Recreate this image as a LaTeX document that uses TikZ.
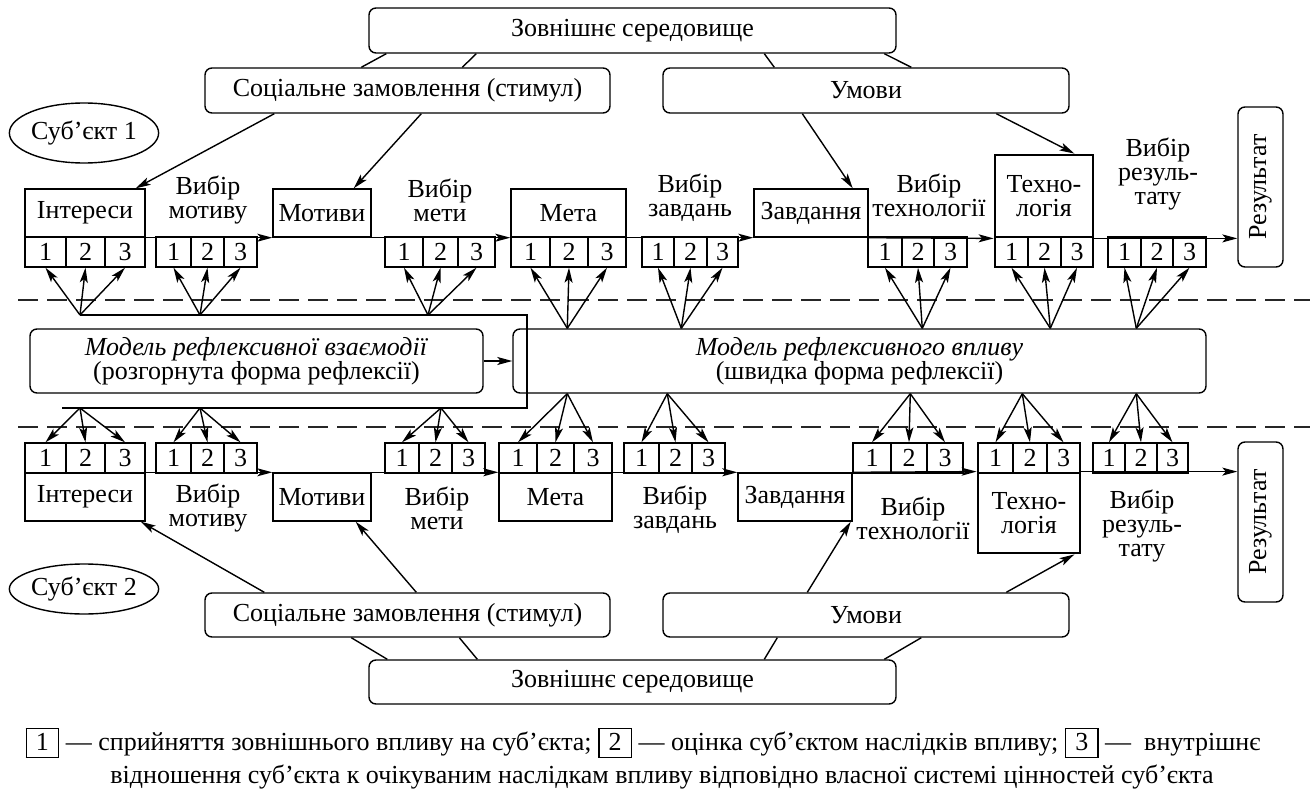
\documentclass[tikz,border=0pt]{standalone}
\usepackage{fontspec}
\setmainfont{Liberation Serif}
\usetikzlibrary{arrows.meta,calc,shapes.geometric}
\newcommand\cellrow[7]{%
  \node[cell,minimum width={#3-#2}] (#1a) at ({(#2+#3)/2},{(#6+#7)/2}) {1};
  \node[cell,minimum width={#4-#3}] (#1b) at ({(#3+#4)/2},{(#6+#7)/2}) {2};
  \node[cell,minimum width={#5-#4}] (#1c) at ({(#4+#5)/2},{(#6+#7)/2}) {3};}
\newcommand\fanup[2]{%
  \draw[arr] (#1) -- (#2a.south); \draw[arr] (#1) -- (#2b.south); \draw[arr] (#1) -- (#2c.south);}
\newcommand\fandown[2]{%
  \draw[arr] (#1) -- (#2a.north); \draw[arr] (#1) -- (#2b.north); \draw[arr] (#1) -- (#2c.north);}
\newcommand\numbox[1]{{\setlength{\fboxsep}{0pt}\setlength{\fboxrule}{1.4pt}\fbox{\rule[-7pt]{0pt}{28pt}\hspace{9pt}#1\hspace{9pt}}}}
\begin{document}
\begin{tikzpicture}[x=1pt,y=-1pt,line width=1.4pt,font=\fontsize{26}{24}\selectfont,
  box/.style={draw,rectangle,inner sep=0pt,align=center},
  rbox/.style={box,rounded corners=7pt},
  tbox/.style={box,line width=2.8pt},
  cell/.style={draw,rectangle,inner sep=0pt,minimum height=30pt},
  lbl/.style={inner sep=0pt,align=center},
  arr/.style={-{Stealth[length=15pt,width=8pt,inset=3.5pt]}},
  dashline/.style={dash pattern=on 20pt off 9pt,line width=1.3pt,black!85}]
\useasboundingbox (0,0) rectangle (1310,789);

% ---------- top part ----------
\node[rbox,minimum width=527,minimum height=45] (env1) at (632.5,30.5) {Зовнішнє середовище};
\node[rbox,minimum width=405,minimum height=45] (soc1) at (407.5,90.5) {Соціальне замовлення (стимул)};
\node[rbox,minimum width=406,minimum height=45] (umo1) at (866,90.5) {Умови};
\node[draw,ellipse,inner sep=0pt,minimum width=138,minimum height=60] (subj1) at (84,133) {Суб’єкт 1};

\node[box,minimum width=120,minimum height=48] (int1) at (85,213) {Інтереси};
\node[box,minimum width=98,minimum height=48] (mot1) at (322,213) {Мотиви};
\node[box,minimum width=115,minimum height=48] (meta1) at (568.5,213) {Мета};
\node[box,minimum width=114,minimum height=48] (zav1) at (811,213) {Завдання};
\node[tbox,minimum width=98,minimum height=82] (tech1) at (1044,196) {Техно-\\логія};
\node[rbox,minimum width=45,minimum height=160] (res1) at (1260.5,187) {};
\node[rotate=90,inner sep=0pt] (res1t) at (res1.center) {Результат};

\node[lbl] (vm1) at (208,200) {Вибір\\мотиву};
\node[lbl] (vme1) at (440,200) {Вибір\\мети};
\node[lbl] (vz1) at (690,198) {Вибір\\завдань};
\node[lbl] (vt1) at (929,195) {Вибір\\технології};
\node[lbl] (vr1) at (1158,174) {Вибір\\резуль-\\тату};

\cellrow{ci1}{25}{66}{105}{145}{237}{267}
\cellrow{cm1}{156}{191}{224}{257}{237}{267}
\cellrow{cme1}{385}{423}{458}{495}{237}{267}
\cellrow{cmt1}{511}{550}{588}{626}{237}{267}
\cellrow{cz1}{642}{674}{707}{738}{237}{267}
\cellrow{ct1}{868}{902}{934}{967}{237}{267}
\cellrow{ctt1}{995}{1028}{1061}{1093}{237}{267}
\cellrow{cr1}{1108}{1141}{1173}{1206}{237}{267}

\draw ($(env1.south west)+(18,0)$) -- ($(soc1.north west)+(157,0)$);
\draw ($(env1.south west)+(108,0)$) -- ($(soc1.north west)+(258,0)$);
\draw ($(env1.south west)+(396,0)$) -- ($(umo1.north west)+(112,0)$);
\draw ($(env1.south west)+(516,0)$) -- ($(umo1.north west)+(249,0)$);
\draw[arr] ($(soc1.south west)+(70,0)$) -- ($(int1.north east)+(-10,0)$);
\draw[arr] ($(soc1.south west)+(217,0)$) -- ($(mot1.north east)+(-18,0)$);
\draw[arr] ($(umo1.south west)+(140,0)$) -- ($(zav1.north east)+(-16,0)$);
\draw[arr] ($(umo1.south west)+(334,0)$) -- ($(tech1.north east)+(-20,0)$);

\draw[arr] (int1.south east) -- (mot1.south west);
\draw[arr] (mot1.south east) -- (meta1.south west);
\draw[arr] (meta1.south east) -- (zav1.south west);
\draw[arr] (zav1.south east) -- (tech1.south west);
\draw[arr] (tech1.south east) -- (tech1.south east -| res1.west);

% ---------- middle ----------
\draw[dashline] (18,300) -- (1310,300);
\draw[dashline] (18,427) -- (1310,427);
\node[rbox,minimum width=453,minimum height=64] (mri) at (256.5,361)
  {\textit{Модель рефлексивної взаємодії}\\(розгорнута форма рефлексії)};
\node[rbox,minimum width=693,minimum height=64] (mrv) at (859.5,361)
  {\textit{Модель рефлексивного впливу}\\(швидка форма рефлексії)};
\draw[arr] (mri.east) -- (mrv.west);
\coordinate (bA) at (80,315);
\coordinate (bB) at (527,315);
\coordinate (bC) at (527,408);
\coordinate (bD) at (62,408);
\draw (bA) -- (bB) -- (bC) -- (bD);

\coordinate (u1) at (80,315);
\coordinate (u2) at (200,315);
\coordinate (u3) at (428,315);
\coordinate (u4) at ($(mrv.north west)+(55,0)$);
\coordinate (u5) at ($(mrv.north west)+(169,0)$);
\coordinate (u6) at ($(mrv.north west)+(410,0)$);
\coordinate (u7) at ($(mrv.north west)+(538,0)$);
\coordinate (u8) at ($(mrv.north west)+(624,0)$);
\fanup{u1}{ci1}\fanup{u2}{cm1}\fanup{u3}{cme1}\fanup{u4}{cmt1}
\fanup{u5}{cz1}\fanup{u6}{ct1}\fanup{u7}{ctt1}\fanup{u8}{cr1}

\coordinate (d1) at (80,408);
\coordinate (d2) at (200,408);
\coordinate (d3) at (441,408);
\coordinate (d4) at ($(mrv.south west)+(55,0)$);
\coordinate (d5) at ($(mrv.south west)+(155,0)$);
\coordinate (d6) at ($(mrv.south west)+(398,0)$);
\coordinate (d7) at ($(mrv.south west)+(510,0)$);
\coordinate (d8) at ($(mrv.south west)+(624,0)$);

% ---------- bottom part ----------
\cellrow{ci2}{25}{66}{105}{145}{443}{473}
\cellrow{cm2}{156}{191}{224}{257}{443}{473}
\cellrow{cme2}{385}{419}{452}{485}{443}{473}
\cellrow{cmt2}{499}{537}{574}{612}{443}{473}
\cellrow{cz2}{624}{659}{692}{725}{443}{473}
\cellrow{ct2}{853}{891}{927}{963}{443}{473}
\cellrow{ctt2}{978}{1013}{1047}{1080}{443}{473}
\cellrow{cr2}{1093}{1125}{1157}{1188}{443}{473}
\fandown{d1}{ci2}\fandown{d2}{cm2}\fandown{d3}{cme2}\fandown{d4}{cmt2}
\fandown{d5}{cz2}\fandown{d6}{ct2}\fandown{d7}{ctt2}\fandown{d8}{cr2}

\node[box,minimum width=120,minimum height=48] (int2) at (85,497) {Інтереси};
\node[box,minimum width=98,minimum height=48] (mot2) at (322,497) {Мотиви};
\node[box,minimum width=113,minimum height=48] (meta2) at (555.5,497) {Мета};
\node[box,minimum width=114,minimum height=48] (zav2) at (795,497) {Завдання};
\node[tbox,minimum width=102,minimum height=80] (tech2) at (1029,513) {Техно-\\логія};
\node[rbox,minimum width=45,minimum height=160] (res2) at (1260.5,522) {};
\node[rotate=90,inner sep=0pt] (res2t) at (res2.center) {Результат};

\node[lbl] (vm2) at (208,508) {Вибір\\мотиву};
\node[lbl] (vme2) at (437,508) {Вибір\\мети};
\node[lbl] (vz2) at (675,510) {Вибір\\завдань};
\node[lbl] (vt2) at (913,518) {Вибір\\технології};
\node[lbl] (vr2) at (1142,526) {Вибір\\резуль-\\тату};

\draw[arr] (int2.north east) -- (mot2.north west);
\draw[arr] (mot2.north east) -- (meta2.north west);
\draw[arr] (meta2.north east) -- (zav2.north west);
\draw[arr] (zav2.north east) -- (tech2.north west);
\draw[arr] (tech2.north east) -- (tech2.north east -| res2.west);

\node[draw,ellipse,inner sep=0pt,minimum width=138,minimum height=50] (subj2) at (84,589) {Суб’єкт 2};
\node[rbox,minimum width=405,minimum height=44] (soc2) at (407.5,615) {Соціальне замовлення (стимул)};
\node[rbox,minimum width=406,minimum height=44] (umo2) at (866,615) {Умови};
\node[rbox,minimum width=527,minimum height=44] (env2) at (632.5,682) {Зовнішнє середовище};

\draw ($(env2.north west)+(19,0)$) -- ($(soc2.south west)+(147,0)$);
\draw ($(env2.north west)+(109,0)$) -- ($(soc2.south west)+(255,0)$);
\draw ($(env2.north west)+(396,0)$) -- ($(umo2.south west)+(115,0)$);
\draw ($(env2.north west)+(516,0)$) -- ($(umo2.south west)+(259,0)$);
\draw[arr] ($(soc2.north west)+(60,0)$) -- ($(int2.south east)+(-5,0)$);
\draw[arr] ($(soc2.north west)+(212,0)$) -- ($(mot2.south east)+(-16,0)$);
\draw[arr] ($(umo2.north west)+(145,0)$) -- ($(zav2.south east)+(-2,0)$);
\draw[arr] ($(umo2.north west)+(344,0)$) -- ($(tech2.south east)+(-7,0)$);

% ---------- legend ----------
\node[inner sep=0pt,anchor=base] (foot1) at (643,750)
  {\numbox{1} — сприйняття зовнішнього впливу на суб’єкта; \numbox{2} — оцінка суб’єктом наслідків впливу; \numbox{3} —\ \ внутрішнє};
\node[inner sep=0pt,anchor=base] (foot2) at (662,783)
  {відношення суб’єкта к очікуваним наслідкам впливу відповідно власної системі цінностей суб’єкта};
\end{tikzpicture}
\end{document}
